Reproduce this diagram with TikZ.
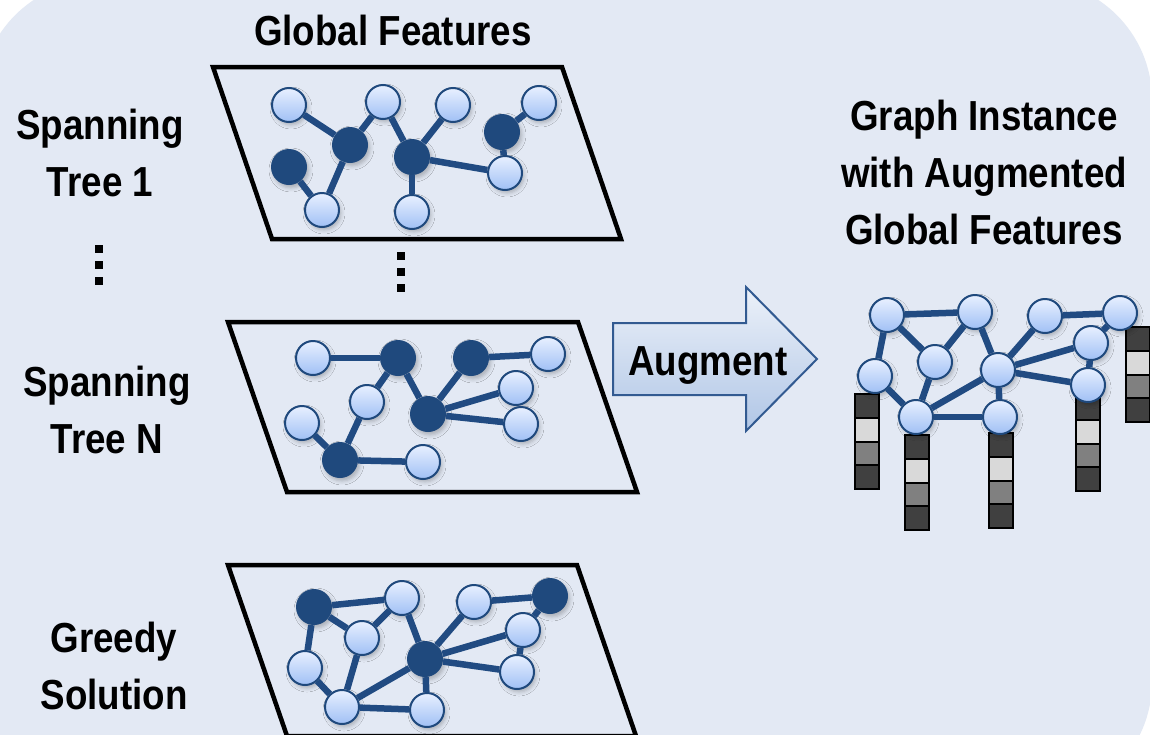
\documentclass[tikz,border=0pt]{standalone}
\usepackage{fontspec}
\setmainfont{Liberation Sans}[FakeStretch=0.875]
\usetikzlibrary{shadows.blur}
\definecolor{panelbg}{RGB}{227,233,244}
\definecolor{navy}{RGB}{31,73,125}
\definecolor{edgeblue}{RGB}{33,75,130}
\definecolor{ltop}{RGB}{232,240,255}
\definecolor{lbot}{RGB}{160,192,245}
\definecolor{arrtop}{RGB}{236,241,249}
\definecolor{arrbot}{RGB}{176,198,230}
\definecolor{arrline}{RGB}{50,90,145}
\definecolor{cdark}{RGB}{64,64,64}
\definecolor{clight}{RGB}{217,217,217}
\definecolor{cmid}{RGB}{128,128,128}

\begin{document}
\begin{tikzpicture}[x=1pt,y=-1pt,
  softshadow/.style={blur shadow={shadow xshift=2pt, shadow yshift=-3pt, shadow opacity=25, shadow blur radius=4pt}},
  lnode/.style={circle, draw=navy, line width=2pt, minimum size=34pt, inner sep=0pt,
    top color=ltop, bottom color=lbot, softshadow},
  dnode/.style={circle, fill=navy, minimum size=36pt, inner sep=0pt, softshadow},
  link/.style={edgeblue, line width=6.5pt},
  plane/.style={line width=4.5pt, black, line join=miter},
  lbl/.style={font=\fontsize{42}{57}\selectfont\bfseries, align=center, inner sep=0pt},
  cell/.style={draw=black, line width=2pt},
  dot/.style={fill=black}
]
\useasboundingbox (0,0) rectangle (1150,734);
% backdrop
\fill[white] (0,0) rectangle (1150,734);
\fill[panelbg, rounded corners=120pt] (-20,-20) rectangle (1152,802);

% ---------- labels ----------
\node[lbl, anchor=base] (gftitle) at (393,45) {Global Features};
\node[lbl] (st1) at (100,153) {Spanning\\Tree 1};
\node[lbl] (stn) at (107,410) {Spanning\\Tree N};
\node[lbl] (greedy) at (114,666) {Greedy\\Solution};
\node[lbl] (result) at (984,172) {Graph Instance\\with Augmented\\Global Features};

% vertical ellipses
\foreach \yy in {249,265,281} \fill[dot] (95,\yy-4) rectangle ++(8,8);
\foreach \yy in {256,272,288} \fill[dot] (397,\yy-4) rectangle ++(8,8);

% ---------- planes ----------
\draw[plane] (213,67) -- (562,67) -- (621,239) -- (272,239) -- cycle;
\draw[plane] (228,322) -- (578,322) -- (637,492) -- (287,492) -- cycle;
\draw[plane] (228,565) -- (577,565) -- (636,736) -- (287,736) -- cycle;

% ---------- spanning tree 1 ----------
\node[lnode] (ta1) at (289,105) {};
\node[lnode] (ta2) at (383,102) {};
\node[lnode] (ta3) at (453,105) {};
\node[lnode] (ta4) at (539,103) {};
\node[lnode] (ta5) at (322,210) {};
\node[lnode] (ta6) at (412,212) {};
\node[lnode] (ta7) at (505,173) {};
\node[dnode] (td1) at (350,145) {};
\node[dnode] (td2) at (412,157) {};
\node[dnode] (td3) at (502,132) {};
\node[dnode] (td4) at (289,167) {};
\draw[link] (ta1) -- (td1);
\draw[link] (td1) -- (ta2);
\draw[link] (ta2) -- (td2);
\draw[link] (td2) -- (ta3);
\draw[link] (td2) -- (ta6);
\draw[link] (td2) -- (ta7);
\draw[link] (ta7) -- (td3);
\draw[link] (td3) -- (ta4);
\draw[link] (td4) -- (ta5);
\draw[link] (ta5) -- (td1);

% ---------- spanning tree N ----------
\node[lnode] (ma1) at (313,358) {};
\node[lnode] (ma2) at (367,402) {};
\node[lnode] (ma3) at (302,423) {};
\node[lnode] (ma4) at (548,354) {};
\node[lnode] (ma5) at (516,388) {};
\node[lnode] (ma6) at (521,424) {};
\node[lnode] (ma7) at (423,462) {};
\node[dnode] (md1) at (398,358) {};
\node[dnode] (md2) at (471,358) {};
\node[dnode] (md3) at (428,414) {};
\node[dnode] (md4) at (340,460) {};
\draw[link] (ma1) -- (md1);
\draw[link] (md1) -- (ma2);
\draw[link] (md1) -- (md3);
\draw[link] (md2) -- (ma4);
\draw[link] (md2) -- (md3);
\draw[link] (md3) -- (ma5);
\draw[link] (md3) -- (ma6);
\draw[link] (ma2) -- (md4);
\draw[link] (ma3) -- (md4);
\draw[link] (md4) -- (ma7);

% ---------- greedy solution ----------
\node[lnode] (ga1) at (402,598) {};
\node[lnode] (ga2) at (362,638) {};
\node[lnode] (ga3) at (305,668) {};
\node[lnode] (ga4) at (342,707) {};
\node[lnode] (ga5) at (427,710) {};
\node[lnode] (ga6) at (474,602) {};
\node[lnode] (ga7) at (523,630) {};
\node[lnode] (ga8) at (517,672) {};
\node[dnode] (gd1) at (314,607) {};
\node[dnode] (gd2) at (425,659) {};
\node[dnode] (gd3) at (550,596) {};
\draw[link] (gd1) -- (ga1);
\draw[link] (gd1) -- (ga2);
\draw[link] (gd1) -- (ga3);
\draw[link] (ga2) -- (ga1);
\draw[link] (ga1) -- (gd2);
\draw[link] (ga2) -- (ga4);
\draw[link] (ga3) -- (ga4);
\draw[link] (ga4) -- (gd2);
\draw[link] (ga4) -- (ga5);
\draw[link] (gd2) -- (ga5);
\draw[link] (gd2) -- (ga6);
\draw[link] (gd2) -- (ga7);
\draw[link] (gd2) -- (ga8);
\draw[link] (ga6) -- (gd3);
\draw[link] (gd3) -- (ga7);
\draw[link] (ga7) -- (ga8);

% ---------- augment arrow ----------
\draw[draw=arrline, line width=2pt, top color=arrtop, bottom color=arrbot, line join=miter]
  (613,323) -- (746,323) -- (746,287) -- (817,359) -- (746,431) -- (746,395) -- (613,395) -- cycle;
\node[lbl, anchor=base] (aug) at (708,375) {Augment};

% ---------- augmented graph: feature columns ----------
\foreach \bx/\by in {855/394, 905/435, 989/433, 1076/396, 1126/327} {
  \foreach \c [count=\i from 0] in {cdark,clight,cmid,cdark}
    \draw[cell, fill=\c] (\bx,{\by+\i*23.75}) rectangle ++(24,23.75);
}

% ---------- augmented graph: nodes and links ----------
\node[lnode] (r1) at (887,315) {};
\node[lnode] (r2) at (975,312) {};
\node[lnode] (r3) at (1045,316) {};
\node[lnode] (r4) at (1120,313) {};
\node[lnode] (r5) at (935,362) {};
\node[lnode] (r6) at (875,376) {};
\node[lnode] (r7) at (998,370) {};
\node[lnode] (r8) at (1091,343) {};
\node[lnode] (r9) at (1088,385) {};
\node[lnode] (r10) at (916,417) {};
\node[lnode] (r11) at (1000,417) {};
\draw[link] (r1) -- (r2);
\draw[link] (r1) -- (r5);
\draw[link] (r1) -- (r6);
\draw[link] (r2) -- (r5);
\draw[link] (r2) -- (r7);
\draw[link] (r5) -- (r10);
\draw[link] (r6) -- (r10);
\draw[link] (r10) -- (r7);
\draw[link] (r10) -- (r11);
\draw[link] (r7) -- (r11);
\draw[link] (r7) -- (r3);
\draw[link] (r3) -- (r4);
\draw[link] (r7) -- (r8);
\draw[link] (r7) -- (r9);
\draw[link] (r8) -- (r4);
\draw[link] (r8) -- (r9);
\end{tikzpicture}
\end{document}
